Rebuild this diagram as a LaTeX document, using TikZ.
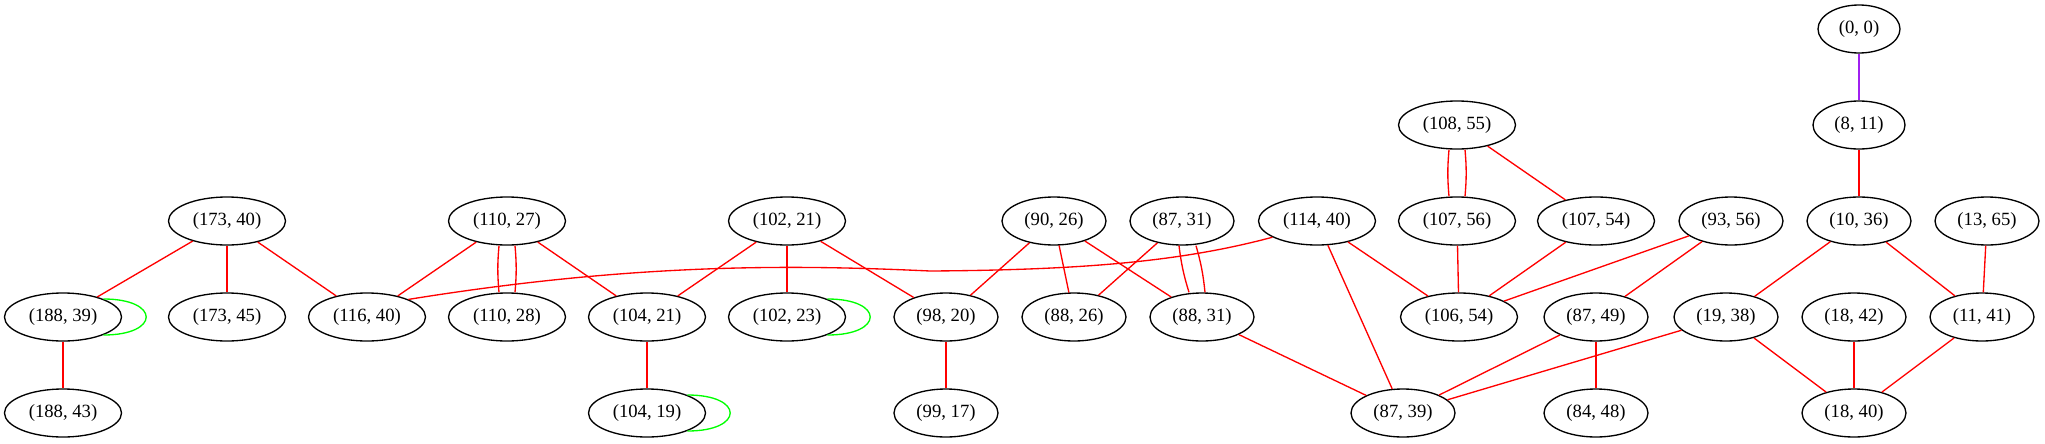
\documentclass[tikz,border=0pt]{standalone}
\usepackage{fontspec}
\setmainfont{Liberation Serif}
\usetikzlibrary{calc,shapes.geometric}
\definecolor{gvred}{RGB}{255,0,0}
\definecolor{gvgreen}{RGB}{0,255,0}
\definecolor{gvpurple}{RGB}{160,32,240}
\begin{document}
\begin{tikzpicture}[x=0.75pt,y=-0.75pt,
  gnode/.style={draw=black, line width=1pt, ellipse, inner sep=0pt, minimum height=36pt, font=\fontsize{14}{16}\selectfont},
  wide/.style={gnode, minimum width=87.75pt},
  mid/.style={gnode, minimum width=78pt},
  narrow/.style={gnode, minimum width=69pt},
  tiny/.style={gnode, minimum width=61.5pt},
  redge/.style={draw=gvred, line width=1pt},
  gedge/.style={draw=gvgreen, line width=1pt},
  pedge/.style={draw=gvpurple, line width=1pt}]
\useasboundingbox (0,0) rectangle (2045,443);
% row 1
\node[tiny] (n00) at (1859,29) {(0, 0)};
% row 2
\node[wide] (n10855) at (1457,125) {(108, 55)};
\node[narrow] (n811) at (1859,125) {(8, 11)};
% row 3
\node[wide] (n17340) at (227,221) {(173, 40)};
\node[wide] (n11027) at (507,221) {(110, 27)};
\node[wide] (n10221) at (787,221) {(102, 21)};
\node[mid] (n9026) at (1054,221) {(90, 26)};
\node[mid] (n8731) at (1182,221) {(87, 31)};
\node[wide] (n11440) at (1317,221) {(114, 40)};
\node[wide] (n10756) at (1457,221) {(107, 56)};
\node[wide] (n10754) at (1596,221) {(107, 54)};
\node[mid] (n9356) at (1731,221) {(93, 56)};
\node[mid] (n1036) at (1859,221) {(10, 36)};
\node[mid] (n1365) at (1987,221) {(13, 65)};
% row 4
\node[wide] (n18839) at (63,317) {(188, 39)};
\node[wide] (n17345) at (227,317) {(173, 45)};
\node[wide] (n11640) at (367,317) {(116, 40)};
\node[wide] (n11028) at (507,317) {(110, 28)};
\node[wide] (n10421) at (647,317) {(104, 21)};
\node[wide] (n10223) at (787,317) {(102, 23)};
\node[mid] (n9820) at (946,317) {(98, 20)};
\node[mid] (n8826) at (1074,317) {(88, 26)};
\node[mid] (n8831) at (1202,317) {(88, 31)};
\node[wide] (n10654) at (1459,317) {(106, 54)};
\node[mid] (n8749) at (1596,317) {(87, 49)};
\node[mid] (n1938) at (1726,317) {(19, 38)};
\node[mid] (n1842) at (1854,317) {(18, 42)};
\node[mid] (n1141) at (1982,317) {(11, 41)};
% row 5
\node[wide] (n18843) at (63,413) {(188, 43)};
\node[wide] (n10419) at (647,413) {(104, 19)};
\node[mid] (n9917) at (946,413) {(99, 17)};
\node[mid] (n8739) at (1403,413) {(87, 39)};
\node[mid] (n8448) at (1596,413) {(84, 48)};
\node[mid] (n1840) at (1854,413) {(18, 40)};
% edges
\draw[pedge] (n00) -- (n811);
\draw[redge] (n811) -- (n1036);
\draw[redge] (n10855) -- (n10754);
\draw[redge] ($(n10855.south)+(-8,0)$) to[bend right=5] ($(n10756.north)+(-8,0)$);
\draw[redge] ($(n10855.south)+(8,0)$) to[bend left=5] ($(n10756.north)+(8,0)$);
\draw[redge] (n17340) -- (n18839);
\draw[redge] (n17340) -- (n17345);
\draw[redge] (n17340) -- (n11640);
\draw[redge] (n11027) -- (n11640);
\draw[redge] ($(n11027.south)+(-8,0)$) to[bend right=5] ($(n11028.north)+(-8,0)$);
\draw[redge] ($(n11027.south)+(8,0)$) to[bend left=5] ($(n11028.north)+(8,0)$);
\draw[redge] (n11027) -- (n10421);
\draw[redge] (n10221) -- (n10421);
\draw[redge] (n10221) -- (n10223);
\draw[redge] (n10221) -- (n9820);
\draw[redge] (n9026) -- (n9820);
\draw[redge] (n9026) -- (n8826);
\draw[redge] (n9026) -- (n8831);
\draw[redge] (n8731) -- (n8826);
\draw[redge] ($(n8731.south)+(-3,0)$) to[bend right=5] ($(n8831.north)+(-13,0)$);
\draw[redge] ($(n8731.south)+(14,0)$) to[bend left=5] ($(n8831.north)+(3,0)$);
\draw[redge] (n11440.200) .. controls (1180,262) and (1080,270) .. (930,271)
  .. controls (800,265) and (640,262) .. (n11640.23);
\draw[redge] (n11440) -- (n10654);
\draw[redge] (n11440) -- (n8739);
\draw[redge] (n10756) -- (n10654);
\draw[redge] (n10754) -- (n10654);
\draw[redge] (n9356) -- (n10654);
\draw[redge] (n9356) -- (n8749);
\draw[redge] (n1036) -- (n1938);
\draw[redge] (n1036) -- (n1141);
\draw[redge] (n1365) -- (n1141);
\draw[redge] (n18839) -- (n18843);
\draw[redge] (n10421) -- (n10419);
\draw[redge] (n9820) -- (n9917);
\draw[redge] (n8831) -- (n8739);
\draw[redge] (n8749) -- (n8739);
\draw[redge] (n8749) -- (n8448);
\draw[redge] (n1938) -- (n8739);
\draw[redge] (n1938) -- (n1840);
\draw[redge] (n1842) -- (n1840);
\draw[redge] (n1141) -- (n1840);
% self loops
\draw[gedge] (n18839.24) .. controls +(57,0) and +(57,0) .. (n18839.-24);
\draw[gedge] (n10223.24) .. controls +(57,0) and +(57,0) .. (n10223.-24);
\draw[gedge] (n10419.24) .. controls +(57,0) and +(57,0) .. (n10419.-24);
\end{tikzpicture}
\end{document}
